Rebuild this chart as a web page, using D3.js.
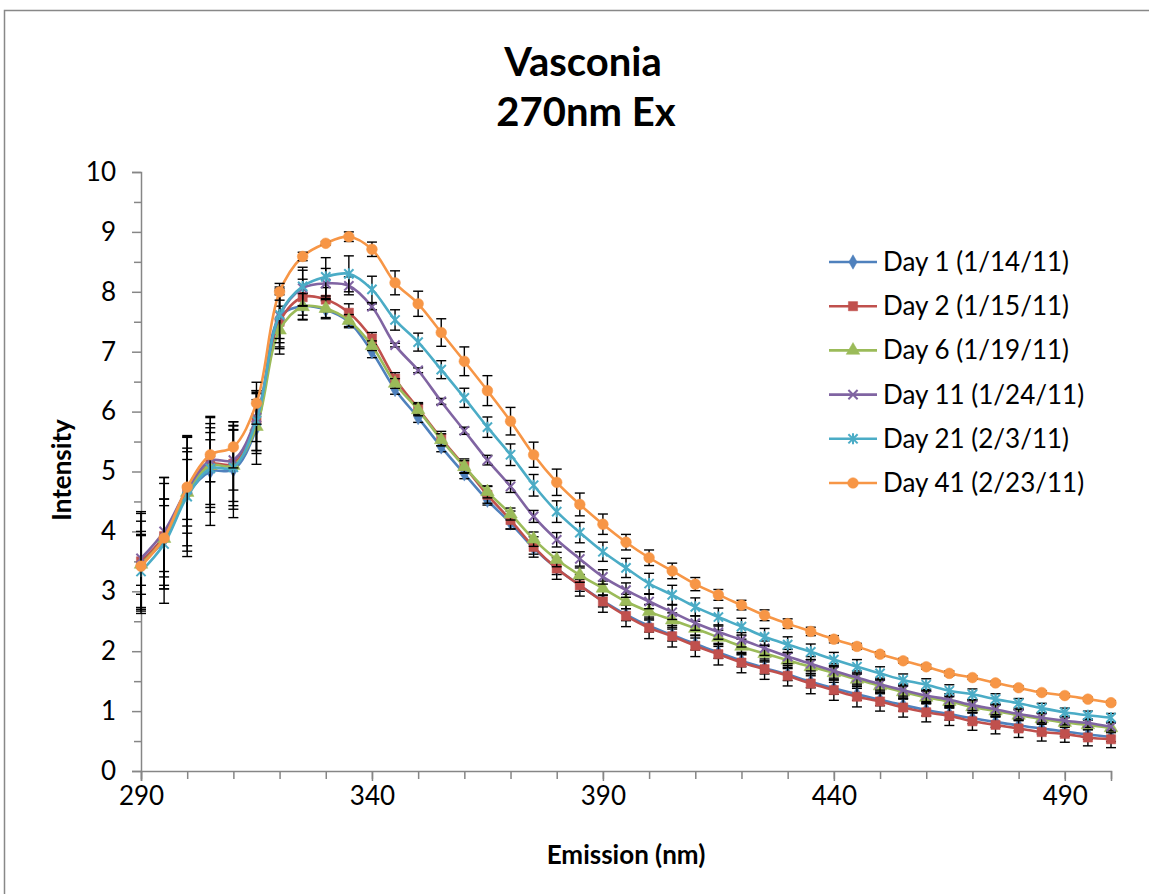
<!DOCTYPE html>
<html>
<head>
<meta charset="utf-8">
<script src="https://cdn.jsdelivr.net/npm/d3@7"></script>
<style>
  body { margin: 0; background: #fff; }
  svg text { font-family: Lato, "Open Sans", sans-serif; fill: #000; }
</style>
</head>
<body>
<div id="element"></div>
<script>
//________________________________ data ________________________________
var emission = d3.range(290, 501, 5);   // 290 .. 500 nm, step 5

var seriesNames = ["Day 1 (1/14/11)", "Day 2 (1/15/11)", "Day 6 (1/19/11)",
                   "Day 11 (1/24/11)", "Day 21 (2/3/11)", "Day 41 (2/23/11)"];

var day1 = [3.48,3.85,4.62,5.00,5.03,5.72,7.58,7.76,7.70,7.50,7.00,6.37,5.90,5.41,4.96,4.52,4.14,3.72,3.38,3.10,2.84,2.61,2.42,2.27,2.12,1.98,1.84,1.72,1.61,1.49,1.38,1.28,1.19,1.10,1.02,0.95,0.88,0.82,0.76,0.71,0.66,0.61,0.57];
var day2 = [3.50,3.92,4.68,5.12,5.13,5.85,7.50,7.91,7.87,7.65,7.22,6.55,6.05,5.55,5.09,4.61,4.19,3.74,3.38,3.10,2.83,2.59,2.39,2.25,2.09,1.95,1.81,1.70,1.59,1.46,1.35,1.24,1.16,1.06,0.98,0.92,0.83,0.77,0.71,0.65,0.62,0.56,0.53];
var day6 = [3.45,3.88,4.65,5.10,5.10,5.75,7.36,7.75,7.72,7.52,7.10,6.47,6.03,5.53,5.08,4.66,4.29,3.87,3.53,3.27,3.05,2.83,2.66,2.52,2.38,2.23,2.08,1.96,1.85,1.74,1.64,1.53,1.42,1.32,1.23,1.16,1.07,1.00,0.93,0.87,0.81,0.77,0.72];
var day11 = [3.55,4.00,4.70,5.18,5.19,5.90,7.60,8.06,8.14,8.10,7.75,7.11,6.69,6.17,5.68,5.19,4.75,4.25,3.86,3.54,3.24,3.02,2.83,2.65,2.47,2.32,2.19,2.05,1.91,1.79,1.67,1.56,1.45,1.35,1.26,1.19,1.10,1.03,0.95,0.89,0.84,0.80,0.74];
var day21 = [3.33,3.79,4.58,5.05,5.07,5.85,7.62,8.09,8.25,8.30,8.04,7.53,7.16,6.70,6.23,5.74,5.28,4.77,4.33,3.98,3.66,3.39,3.13,2.94,2.74,2.57,2.41,2.24,2.11,1.99,1.86,1.74,1.63,1.52,1.44,1.34,1.28,1.20,1.13,1.05,0.98,0.93,0.89];
var day41 = [3.42,3.89,4.74,5.28,5.41,6.14,8.00,8.59,8.81,8.92,8.71,8.15,7.80,7.32,6.84,6.35,5.84,5.28,4.82,4.45,4.12,3.82,3.56,3.34,3.12,2.94,2.77,2.60,2.46,2.33,2.20,2.08,1.95,1.84,1.74,1.63,1.56,1.47,1.39,1.31,1.26,1.20,1.14];

// standard deviations (error bars)
var err1 = [0.85,1.05,0.95,0.90,0.80,0.60,0.50,0.22,0.15,0.10,0.10,0.08,0.08,0.08,0.08,0.08,0.10,0.10,0.10,0.10,0.10,0.10,0.10,0.10,0.10,0.10,0.10,0.10,0.10,0.10,0.10,0.10,0.10,0.10,0.10,0.10,0.09,0.09,0.09,0.09,0.08,0.08,0.08];
var err2 = [0.80,0.88,0.92,0.80,0.70,0.50,0.45,0.30,0.20,0.15,0.10,0.10,0.10,0.12,0.12,0.14,0.15,0.17,0.18,0.18,0.18,0.18,0.18,0.18,0.18,0.18,0.17,0.17,0.17,0.17,0.17,0.17,0.16,0.16,0.16,0.16,0.15,0.15,0.15,0.15,0.14,0.14,0.14];
var err6 = [0.50,0.55,0.68,0.70,0.60,0.45,0.40,0.22,0.15,0.10,0.08,0.08,0.10,0.10,0.10,0.10,0.10,0.12,0.12,0.12,0.12,0.12,0.12,0.12,0.12,0.12,0.12,0.12,0.12,0.12,0.12,0.11,0.11,0.11,0.10,0.10,0.10,0.10,0.09,0.09,0.08,0.08,0.08];
var err11 = [0.45,0.90,0.50,0.35,0.50,0.40,0.45,0.30,0.25,0.15,0.05,0.03,0.04,0.05,0.06,0.08,0.10,0.10,0.12,0.12,0.12,0.12,0.12,0.12,0.12,0.12,0.12,0.12,0.12,0.12,0.12,0.11,0.10,0.10,0.10,0.10,0.09,0.09,0.08,0.08,0.07,0.07,0.07];
var err21 = [0.60,0.75,1.00,0.60,0.70,0.50,0.40,0.32,0.32,0.30,0.22,0.17,0.15,0.15,0.16,0.17,0.18,0.18,0.18,0.17,0.16,0.16,0.17,0.16,0.15,0.15,0.14,0.14,0.13,0.13,0.12,0.12,0.11,0.10,0.10,0.10,0.09,0.09,0.08,0.08,0.07,0.07,0.07];
var err41 = [0.75,0.65,0.65,0.45,0.35,0.35,0.14,0.07,0.03,0.08,0.12,0.20,0.21,0.23,0.24,0.25,0.23,0.21,0.22,0.19,0.17,0.13,0.13,0.13,0.11,0.09,0.08,0.09,0.08,0.07,0.06,0.05,0.04,0.04,0.04,0.04,0.03,0.03,0.03,0.03,0.03,0.03,0.03];

var xLabels = [290, 340, 390, 440, 490];
var yTicks = [0, 1, 2, 3, 4, 5, 6, 7, 8, 9, 10];

var colors = ["#4F81BD", "#C0504D", "#9BBB59", "#8064A2", "#4BACC6", "#F79646"];

//__________________________ svg + scales ______________________________
var width = 1149,
    height = 894;

var svg = d3.select("#element")
  .append("svg")
  .attr("width", width)
  .attr("height", height);

// chart border
svg.append("rect")
  .attr("x", 4.5).attr("y", 10.5)
  .attr("width", 1160).attr("height", 900)
  .attr("fill", "#fff")
  .attr("stroke", "#888").attr("stroke-width", 1.5);

var x = d3.scaleLinear().domain([290, 500]).range([141, 1111]);
var y = d3.scaleLinear().domain([0, 10]).range([771, 172]);

//______________________________ titles ________________________________
svg.append("text").attr("x", 583).attr("y", 76)
  .attr("text-anchor", "middle").style("font-size", "40px").style("font-weight", "bold")
  .text("Vasconia");
svg.append("text").attr("x", 586).attr("y", 126)
  .attr("text-anchor", "middle").style("font-size", "40px").style("font-weight", "bold")
  .text("270nm Ex");

//_______________________________ axes _________________________________
var axisColor = "#868686";

svg.append("g").attr("transform", "translate(141,0)")
  .call(d3.axisLeft(y).tickValues(yTicks).tickSize(9).tickPadding(16).tickFormat(d3.format("d")));
// minor y ticks at the halves
svg.append("g").attr("transform", "translate(141,0)")
  .call(d3.axisLeft(y).tickValues(d3.range(0.5, 10, 1)).tickSize(7).tickFormat(""))
  .select(".domain").remove();

svg.append("g").attr("transform", "translate(0,771)")
  .call(d3.axisBottom(x).tickValues(xLabels).tickSize(10).tickPadding(6).tickFormat(d3.format("d")));
svg.append("g").attr("transform", "translate(0,771)")
  .call(d3.axisBottom(x).tickValues(d3.range(290, 501, 10)).tickSize(8).tickFormat(""))
  .select(".domain").remove();

svg.selectAll(".domain, .tick line")
  .attr("stroke", axisColor).attr("stroke-width", 1.5);
svg.selectAll(".tick text")
  .attr("fill", "#000").style("font-size", "26px").style("font-family", "Lato, sans-serif");

svg.append("text")
  .attr("transform", "translate(71,470) rotate(-90)")
  .attr("text-anchor", "middle").style("font-size", "26px").style("font-weight", "bold")
  .text("Intensity");
svg.append("text").attr("x", 626).attr("y", 864)
  .attr("text-anchor", "middle").style("font-size", "26px").style("font-weight", "bold")
  .text("Emission (nm)");

//___________________________ marker shapes ____________________________
var symbolX = {
  draw: function (ctx, size) {
    var r = Math.sqrt(size) / 2;
    ctx.moveTo(-r, -r); ctx.lineTo(r, r);
    ctx.moveTo(-r, r); ctx.lineTo(r, -r);
  }
};
var symbolStar = {
  draw: function (ctx, size) {
    var r = Math.sqrt(size) / 2;
    ctx.moveTo(-r, -r); ctx.lineTo(r, r);
    ctx.moveTo(-r, r); ctx.lineTo(r, -r);
    ctx.moveTo(0, -r * 1.2); ctx.lineTo(0, r * 1.2);
  }
};
var markers = [
  { type: d3.symbolDiamond, size: 60, stroke: false },
  { type: d3.symbolSquare, size: 85, stroke: false },
  { type: d3.symbolTriangle, size: 80, stroke: false },
  { type: symbolX, size: 85, stroke: true },
  { type: symbolStar, size: 85, stroke: true },
  { type: d3.symbolCircle, size: 90, stroke: false }
];

function drawMarker(sel, i) {
  var m = markers[i];
  sel.append("path")
    .attr("d", d3.symbol().type(m.type).size(m.size)())
    .attr("fill", m.stroke ? "none" : colors[i])
    .attr("stroke", colors[i])
    .attr("stroke-width", m.stroke ? 2 : 0.5);
}

//______________________________ series ________________________________
var values = [day1, day2, day6, day11, day21, day41];
var errors = [err1, err2, err6, err11, err21, err41];

var series = values.map(function (vals, i) {
  return emission.map(function (nm, j) {
    return { x: nm, y: vals[j], e: errors[i][j] };
  });
});

var line = d3.line()
  .x(function (d) { return x(d.x); })
  .y(function (d) { return y(d.y); })
  .curve(d3.curveCatmullRom.alpha(0.5));

var plot = svg.append("g");

series.forEach(function (data, i) {
  var g = plot.append("g");

  g.append("path")
    .datum(data)
    .attr("fill", "none")
    .attr("stroke", colors[i])
    .attr("stroke-width", 2.6)
    .attr("d", line);

  // error bars
  var eb = g.selectAll(".err").data(data).enter().append("g");
  eb.append("line")
    .attr("x1", function (d) { return x(d.x); })
    .attr("x2", function (d) { return x(d.x); })
    .attr("y1", function (d) { return y(d.y + d.e); })
    .attr("y2", function (d) { return y(d.y - d.e); });
  eb.append("line")
    .attr("x1", function (d) { return x(d.x) - 5; })
    .attr("x2", function (d) { return x(d.x) + 5; })
    .attr("y1", function (d) { return y(d.y + d.e); })
    .attr("y2", function (d) { return y(d.y + d.e); });
  eb.append("line")
    .attr("x1", function (d) { return x(d.x) - 5; })
    .attr("x2", function (d) { return x(d.x) + 5; })
    .attr("y1", function (d) { return y(d.y - d.e); })
    .attr("y2", function (d) { return y(d.y - d.e); });
  eb.selectAll("line").attr("stroke", "#000").attr("stroke-width", 1.4);

  // markers
  g.selectAll(".pt").data(data).enter().append("g")
    .attr("transform", function (d) { return "translate(" + x(d.x) + "," + y(d.y) + ")"; })
    .each(function () { drawMarker(d3.select(this), i); });
});

//______________________________ legend ________________________________
var legend = svg.append("g");
seriesNames.forEach(function (name, i) {
  var ly = 262 + i * 44.2;
  legend.append("line")
    .attr("x1", 829).attr("x2", 877).attr("y1", ly).attr("y2", ly)
    .attr("stroke", colors[i]).attr("stroke-width", 2.6);
  var mk = legend.append("g").attr("transform", "translate(853," + ly + ")");
  drawMarker(mk, i);
  legend.append("text")
    .attr("x", 883).attr("y", ly + 9)
    .style("font-size", "26px")
    .text(name);
});
</script>
</body>
</html>
